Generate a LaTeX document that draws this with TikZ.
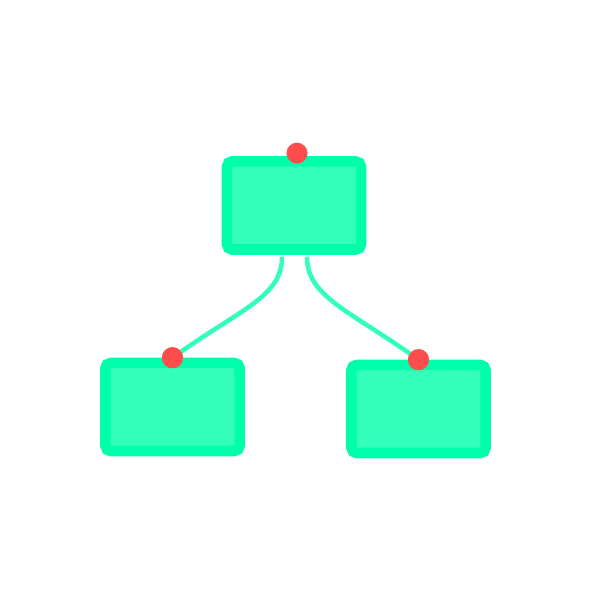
\documentclass[tikz,border=0pt]{standalone}
\definecolor{boxedge}{HTML}{00FFAA}
\definecolor{boxfill}{HTML}{33FFBB}
\definecolor{dotred}{HTML}{FF4D4D}
\begin{document}
\begin{tikzpicture}[x=.01cm, y=.01cm,
    box/.style={draw=boxedge, fill=boxfill, line width=3pt, rounded corners=1.5pt,
        minimum width=1.34cm, minimum height=.88cm, inner sep=0pt},
    pin/.style={circle, fill=dotred, minimum size=.21cm, inner sep=0pt},
    link/.style={boxfill, line width=1.3pt}]
            \useasboundingbox (0,0) rectangle (600,600);
            \node[box] (top) at (294,394.5) {};
            \node[box] (left) at (172.5,193) {};
            \node[box] (right) at (418.5,191) {};
            \coordinate (topl) at ([xshift=-.12cm, yshift=-.02cm]top.south);
            \coordinate (topr) at ([xshift=.13cm, yshift=-.02cm]top.south);
            \node[pin] (toppin) at ([xshift=.03cm, yshift=.03cm]top.north) {};
            \node[pin] (leftpin) at (left.north) {};
            \node[pin] (rightpin) at (right.north) {};
            \draw[link] (topl) .. controls +(0,-40) and +(70,50) .. (leftpin.center);
            \draw[link] (topr) .. controls +(0,-40) and +(-70,50) .. (rightpin.center);
            \node[pin] at (leftpin) {};
            \node[pin] at (rightpin) {};
\end{tikzpicture}
\end{document}
